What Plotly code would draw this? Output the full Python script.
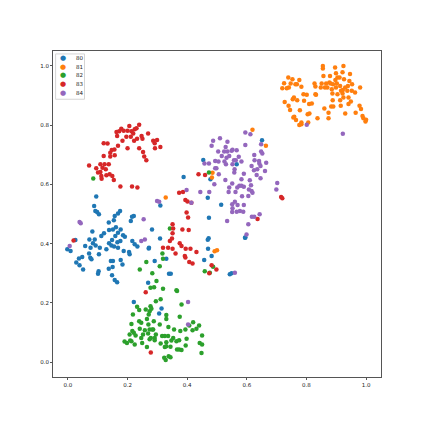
import plotly.graph_objects as go

labels = ["80", "81", "82", "83", "84"]
colors = ["#1f77b4", "#ff7f0e", "#2ca02c", "#d62728", "#9467bd"]

# cluster 80 (blue)
x80 = [0.095, 0.088, 0.092, 0.098, 0.104, 0.168, 0.175, 0.157, 0.221, 0.215, 0.211, 0.154, 0.137,
       0.121, 0.112, 0.082, 0.090, 0.072, 0.084, 0.093, 0.076, 0.058, 0.025, -0.002, 0.009, 0.071,
       0.048, 0.037, 0.075, 0.079, 0.028, 0.039, 0.051, 0.104, 0.107, 0.129, 0.138, 0.146, 0.155,
       0.168, 0.148, 0.166, 0.176, 0.159, 0.168, 0.185, 0.191, 0.177, 0.161, 0.151, 0.138, 0.216,
       0.224, 0.233, 0.271, 0.282, 0.187, 0.205, 0.207, 0.144, 0.151, 0.177, 0.183, 0.150, 0.137,
       0.103, 0.101, 0.148, 0.157, 0.165, 0.221, 0.269, 0.314, 0.306, 0.388, 0.651, 0.566, 0.454,
       0.478, 0.469, 0.514, 0.473, 0.472, 0.469, 0.595, 0.310, 0.309, 0.272, 0.330, 0.291, 0.470,
       0.482, 0.457, 0.339, 0.345, 0.543, 0.549, 0.594]
y80 = [0.559, 0.527, 0.510, 0.507, 0.499, 0.502, 0.510, 0.493, 0.493, 0.491, 0.476, 0.479, 0.471,
       0.435, 0.426, 0.441, 0.414, 0.414, 0.401, 0.394, 0.386, 0.392, 0.412, 0.381, 0.375, 0.367,
       0.355, 0.350, 0.352, 0.347, 0.336, 0.327, 0.313, 0.364, 0.386, 0.381, 0.401, 0.394, 0.390,
       0.386, 0.412, 0.405, 0.409, 0.426, 0.437, 0.428, 0.423, 0.448, 0.455, 0.448, 0.446, 0.409,
       0.398, 0.390, 0.384, 0.448, 0.375, 0.372, 0.364, 0.341, 0.341, 0.345, 0.330, 0.321, 0.315,
       0.307, 0.298, 0.293, 0.277, 0.270, 0.203, 0.268, 0.181, 0.164, 0.625, 0.749, 0.668, 0.682,
       0.617, 0.555, 0.531, 0.487, 0.418, 0.413, 0.421, 0.529, 0.417, 0.386, 0.349, 0.341, 0.383,
       0.358, 0.345, 0.298, 0.298, 0.297, 0.300, 0.420]

# cluster 81 (orange)
x81 = [0.855, 0.855, 0.896, 0.924, 0.946, 0.921, 0.899, 0.879, 0.857, 0.904, 0.911, 0.897, 0.926,
       0.944, 0.877, 0.866, 0.851, 0.827, 0.830, 0.881, 0.889, 0.902, 0.913, 0.930, 0.939, 0.953,
       0.980, 0.963, 0.952, 0.937, 0.922, 0.916, 0.921, 0.904, 0.887, 0.870, 0.862, 0.848, 0.830,
       0.832, 0.801, 0.790, 0.792, 0.809, 0.818, 0.769, 0.758, 0.754, 0.783, 0.768, 0.776, 0.763,
       0.753, 0.739, 0.725, 0.741, 0.734, 0.719, 0.747, 0.727, 0.740, 0.745, 0.778, 0.759, 0.756,
       0.765, 0.776, 0.783, 0.783, 0.806, 0.810, 0.804, 0.837, 0.874, 0.860, 0.874, 0.883, 0.890,
       0.915, 0.941, 0.949, 0.930, 0.965, 0.978, 0.983, 0.988, 0.991, 0.998, 1.000, 0.941, 0.924,
       0.888, 0.913, 0.885, 0.899, 0.328, 0.485, 0.483, 0.492, 0.500, 0.619, 0.664]
y81 = [0.999, 0.991, 0.994, 0.999, 0.972, 0.978, 0.975, 0.966, 0.966, 0.961, 0.961, 0.952, 0.955,
       0.949, 0.944, 0.940, 0.940, 0.940, 0.930, 0.940, 0.938, 0.940, 0.932, 0.927, 0.932, 0.938,
       0.927, 0.910, 0.916, 0.916, 0.918, 0.916, 0.907, 0.904, 0.907, 0.927, 0.927, 0.927, 0.904,
       0.902, 0.902, 0.904, 0.882, 0.871, 0.873, 0.884, 0.893, 0.887, 0.929, 0.938, 0.952, 0.938,
       0.955, 0.961, 0.941, 0.927, 0.924, 0.924, 0.940, 0.878, 0.865, 0.851, 0.850, 0.828, 0.826,
       0.817, 0.800, 0.803, 0.809, 0.809, 0.839, 0.837, 0.823, 0.823, 0.856, 0.842, 0.863, 0.863,
       0.865, 0.871, 0.880, 0.839, 0.842, 0.865, 0.854, 0.831, 0.823, 0.812, 0.818, 0.893, 0.893,
       0.884, 0.884, 0.921, 0.927, 0.556, 0.639, 0.623, 0.374, 0.378, 0.784, 0.730]

# cluster 82 (green)
x82 = [0.297, 0.277, 0.289, 0.319, 0.364, 0.366, 0.311, 0.295, 0.232, 0.239, 0.261, 0.277, 0.280,
       0.274, 0.381, 0.330, 0.330, 0.271, 0.265, 0.218, 0.288, 0.283, 0.270, 0.246, 0.239, 0.213,
       0.241, 0.258, 0.274, 0.286, 0.308, 0.337, 0.375, 0.420, 0.407, 0.440, 0.431, 0.418, 0.356,
       0.377, 0.394, 0.216, 0.221, 0.207, 0.227, 0.246, 0.252, 0.269, 0.278, 0.291, 0.295, 0.316,
       0.325, 0.336, 0.353, 0.398, 0.450, 0.190, 0.198, 0.213, 0.224, 0.249, 0.274, 0.291, 0.311,
       0.330, 0.347, 0.364, 0.373, 0.395, 0.442, 0.450, 0.265, 0.325, 0.330, 0.344, 0.366, 0.373,
       0.381, 0.448, 0.323, 0.328, 0.338, 0.344, 0.209, 0.342, 0.317, 0.319, 0.308, 0.263, 0.283,
       0.241, 0.459, 0.476, 0.487, 0.473, 0.085]
y82 = [0.274, 0.251, 0.253, 0.248, 0.243, 0.240, 0.212, 0.206, 0.187, 0.176, 0.178, 0.189, 0.180,
       0.172, 0.195, 0.159, 0.146, 0.161, 0.146, 0.161, 0.138, 0.110, 0.127, 0.133, 0.138, 0.129,
       0.113, 0.108, 0.110, 0.110, 0.127, 0.119, 0.153, 0.135, 0.124, 0.124, 0.113, 0.108, 0.110,
       0.105, 0.110, 0.105, 0.099, 0.093, 0.090, 0.082, 0.093, 0.097, 0.082, 0.082, 0.093, 0.088,
       0.088, 0.088, 0.082, 0.079, 0.090, 0.070, 0.065, 0.071, 0.060, 0.065, 0.077, 0.074, 0.063,
       0.067, 0.073, 0.071, 0.074, 0.056, 0.065, 0.060, 0.051, 0.051, 0.054, 0.052, 0.043, 0.043,
       0.041, 0.031, 0.015, 0.007, 0.020, 0.017, 0.073, 0.451, 0.367, 0.349, 0.324, 0.338, 0.300,
       0.313, 0.307, 0.302, 0.322, 0.640, 0.620]

# cluster 83 (red)
x83 = [0.206, 0.239, 0.179, 0.187, 0.172, 0.200, 0.213, 0.224, 0.230, 0.219, 0.211, 0.196, 0.163,
       0.165, 0.269, 0.247, 0.250, 0.232, 0.222, 0.183, 0.286, 0.299, 0.291, 0.310, 0.292, 0.239,
       0.200, 0.168, 0.156, 0.147, 0.142, 0.133, 0.120, 0.252, 0.256, 0.263, 0.157, 0.142, 0.120,
       0.123, 0.109, 0.137, 0.071, 0.095, 0.116, 0.127, 0.109, 0.101, 0.140, 0.129, 0.112, 0.113,
       0.149, 0.154, 0.176, 0.215, 0.233, 0.373, 0.386, 0.394, 0.401, 0.414, 0.398, 0.403, 0.351,
       0.353, 0.384, 0.405, 0.351, 0.349, 0.342, 0.336, 0.319, 0.351, 0.375, 0.381, 0.395, 0.411,
       0.361, 0.392, 0.394, 0.407, 0.418, 0.431, 0.482, 0.474, 0.498, 0.438, 0.460, 0.715, 0.719,
       0.636, 0.019, 0.261, 0.278]
y83 = [0.797, 0.801, 0.788, 0.781, 0.779, 0.781, 0.779, 0.786, 0.789, 0.772, 0.761, 0.761, 0.777,
       0.763, 0.772, 0.763, 0.754, 0.754, 0.747, 0.747, 0.747, 0.750, 0.739, 0.726, 0.722, 0.722,
       0.722, 0.730, 0.718, 0.716, 0.707, 0.738, 0.739, 0.709, 0.694, 0.681, 0.698, 0.694, 0.696,
       0.668, 0.668, 0.668, 0.664, 0.654, 0.656, 0.651, 0.642, 0.640, 0.634, 0.631, 0.628, 0.619,
       0.628, 0.615, 0.593, 0.593, 0.589, 0.572, 0.574, 0.547, 0.542, 0.538, 0.505, 0.488, 0.465,
       0.451, 0.448, 0.446, 0.435, 0.417, 0.409, 0.386, 0.386, 0.383, 0.401, 0.392, 0.383, 0.383,
       0.367, 0.358, 0.353, 0.338, 0.333, 0.372, 0.327, 0.300, 0.313, 0.634, 0.632, 0.557, 0.553,
       0.483, 0.411, 0.236, 0.033]

# cluster 84 (purple)
x84 = [0.595, 0.612, 0.648, 0.510, 0.487, 0.535, 0.482, 0.529, 0.552, 0.566, 0.595, 0.504, 0.524,
       0.535, 0.549, 0.516, 0.532, 0.541, 0.573, 0.625, 0.648, 0.652, 0.494, 0.505, 0.458, 0.473,
       0.525, 0.552, 0.530, 0.557, 0.563, 0.582, 0.626, 0.641, 0.642, 0.665, 0.616, 0.646, 0.494,
       0.498, 0.559, 0.558, 0.590, 0.624, 0.635, 0.661, 0.506, 0.633, 0.528, 0.582, 0.610, 0.491,
       0.551, 0.614, 0.646, 0.702, 0.699, 0.541, 0.568, 0.575, 0.582, 0.590, 0.562, 0.607, 0.616,
       0.619, 0.444, 0.474, 0.539, 0.584, 0.605, 0.414, 0.560, 0.551, 0.569, 0.590, 0.552, 0.566,
       0.551, 0.577, 0.588, 0.643, 0.617, 0.625, 0.534, 0.605, 0.599, 0.398, 0.299, 0.306, 0.254,
       0.258, 0.246, 0.560, 0.039, 0.043, 0.006, 0.403, 0.403, 0.801, 0.922]
y84 = [0.775, 0.769, 0.735, 0.756, 0.747, 0.744, 0.730, 0.726, 0.717, 0.715, 0.733, 0.711, 0.711,
       0.711, 0.713, 0.696, 0.690, 0.696, 0.693, 0.699, 0.711, 0.704, 0.679, 0.677, 0.670, 0.670,
       0.677, 0.668, 0.668, 0.681, 0.681, 0.677, 0.681, 0.679, 0.670, 0.673, 0.662, 0.662, 0.654,
       0.654, 0.651, 0.640, 0.636, 0.648, 0.651, 0.645, 0.634, 0.632, 0.615, 0.617, 0.614, 0.600,
       0.603, 0.597, 0.621, 0.605, 0.583, 0.589, 0.589, 0.595, 0.595, 0.592, 0.574, 0.583, 0.578,
       0.572, 0.574, 0.574, 0.574, 0.560, 0.561, 0.538, 0.541, 0.533, 0.530, 0.530, 0.519, 0.508,
       0.507, 0.510, 0.508, 0.499, 0.491, 0.491, 0.476, 0.465, 0.431, 0.581, 0.544, 0.541, 0.482,
       0.414, 0.409, 0.302, 0.473, 0.469, 0.392, 0.203, 0.127, 0.801, 0.771]

xs = [x80, x81, x82, x83, x84]
ys = [y80, y81, y82, y83, y84]

fig = go.Figure()
for lab, col, xv, yv in zip(labels, colors, xs, ys):
    fig.add_trace(go.Scatter(x=xv, y=yv, mode="markers", name=lab, showlegend=False,
                             marker=dict(color=col, size=4.5, line=dict(width=0))))

# small matplotlib-like legend box in the upper left corner
fig.add_shape(type="rect", xref="paper", yref="paper", x0=0.008, x1=0.096, y0=0.852, y1=0.991,
              line=dict(color="#d5d5d5", width=1), fillcolor="rgba(255,255,255,0.8)", layer="above")
row_y = [0.978, 0.952, 0.925, 0.899, 0.872]
for lab, col, ry in zip(labels, colors, row_y):
    fig.add_annotation(x=0.031, y=ry, xref="paper", yref="paper", text="●", showarrow=False,
                       font=dict(size=7, color=col), xanchor="center", yanchor="middle")
    fig.add_annotation(x=0.063, y=ry, xref="paper", yref="paper", text=lab, showarrow=False,
                       font=dict(size=5.5, color="#222"), xanchor="left", yanchor="middle")

axis_style = dict(range=[-0.05, 1.05], tickvals=[0, 0.2, 0.4, 0.6, 0.8, 1.0], tickformat=".1f",
                  showgrid=False, zeroline=False, showline=True, mirror=True,
                  linecolor="#555", linewidth=1, ticks="outside", ticklen=2, tickcolor="#555",
                  tickfont=dict(size=5.5, color="#222"))

# the page body adds 8px around the figure, so the figure is 415px square
fig.update_layout(
    width=415, height=415,
    margin=dict(l=45, r=42, t=43, b=46),
    paper_bgcolor="white", plot_bgcolor="white",
    font=dict(family="DejaVu Sans", size=5.5, color="#222"),
    xaxis=axis_style, yaxis=axis_style,
)

fig.write_html("out.html")
